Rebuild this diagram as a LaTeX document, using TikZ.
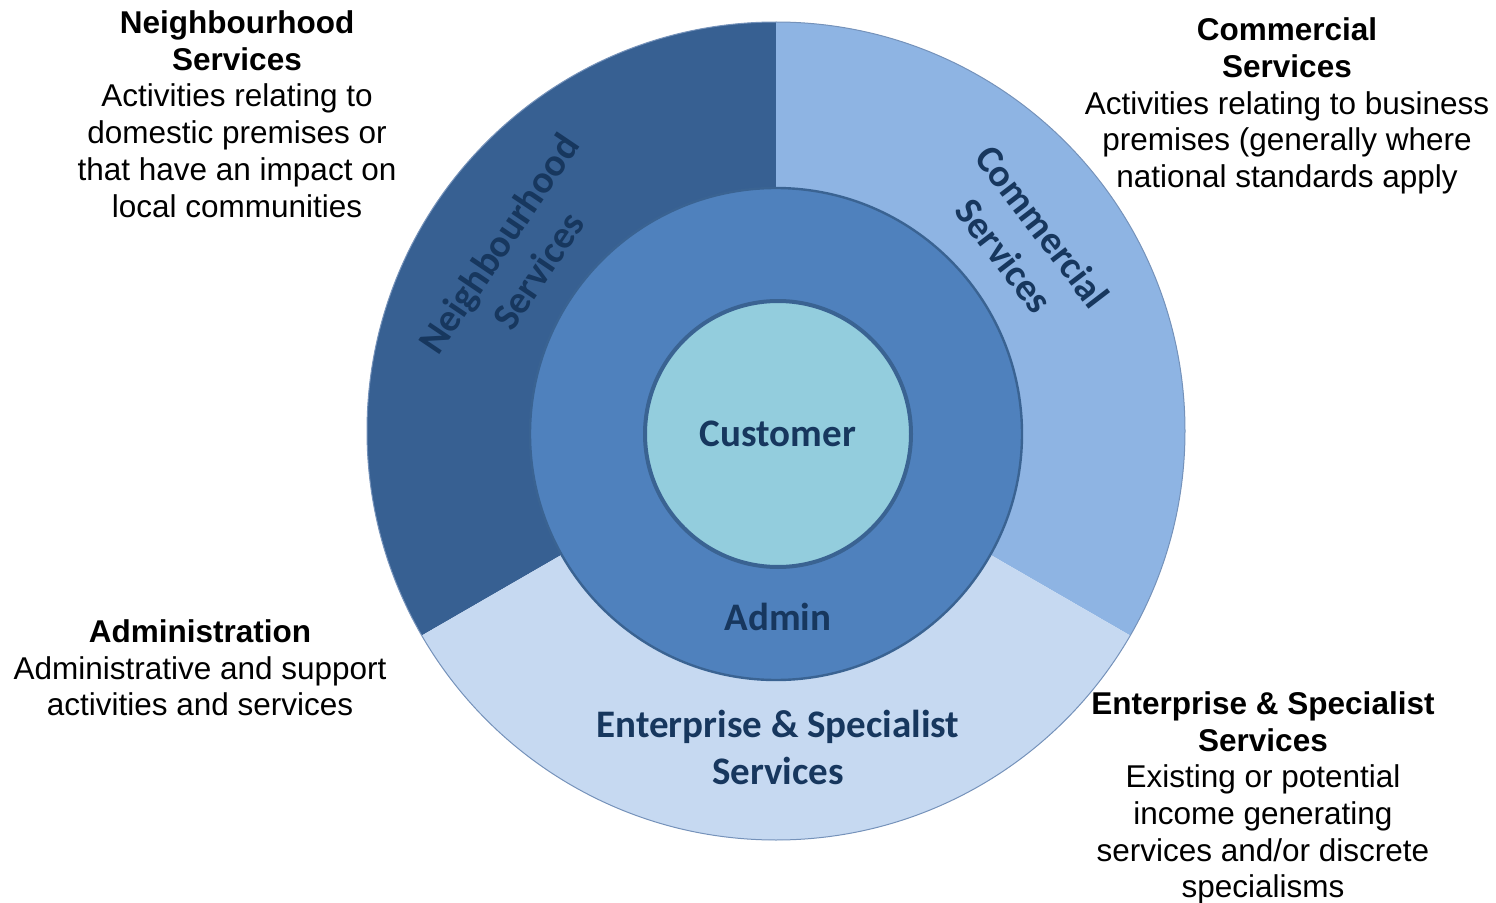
\documentclass[tikz,border=0pt]{standalone}
\usepackage{fontspec}
\setmainfont{Liberation Sans}
\newfontfamily\calibri{Carlito}
\definecolor{nbhd}{HTML}{376092}
\definecolor{comm}{HTML}{8EB4E3}
\definecolor{entr}{HTML}{C6D9F1}
\definecolor{admin}{HTML}{4F81BD}
\definecolor{cust}{HTML}{93CDDD}
\definecolor{rimline}{HTML}{7592BA}
\definecolor{border}{HTML}{3A6392}
\definecolor{navy}{HTML}{17375E}
\begin{document}
\begin{tikzpicture}[x=.5pt, y=.5pt,
    ringlabel/.style={text=navy, align=center, font=\calibri\bfseries\fontsize{19.5}{24}\selectfont},
    blurb/.style={align=center, font=\fontsize{15.75}{18.35}\selectfont}]
\useasboundingbox (0,0) rectangle (1496,902);
\coordinate (ctr) at (776,471);
% outer ring, three sectors
\fill[nbhd](ctr)--++(90:409)arc[start angle=90, end angle=210, radius=409]--cycle;
\fill[comm](ctr)--++(90:409)arc[start angle=90, end angle=-30, radius=409]--cycle;
\fill[entr](ctr)--++(-30:409)arc[start angle=-30, end angle=-150, radius=409]--cycle;
\draw[rimline, line width=.5pt](ctr) circle[radius=409];
% admin ring and customer core
\draw[fill=admin, draw=border, line width=1.2pt](776,468) circle[radius=246];
\node[circle, minimum size=133pt, inner sep=0pt, fill=cust, draw=border, line width=2pt, ringlabel] (customer) at (778,468) {Customer};
\node[ringlabel] (adminlbl) at (778,285) {Admin};
\node[ringlabel, font=\calibri\bfseries\fontsize{19.5}{23.5}\selectfont] (entrlbl) at (778,154.5) {Enterprise \& Specialist\\Services};
\path(ctr)++(146:311)node[ringlabel, rotate=56] (nbhdlbl) {Neighbourhood\\Services};
\path(ctr)++(37.5:312)node[ringlabel, rotate=-52.5] (commlbl) {Commercial\\Services};
% notes round the wheel
\node[blurb] (nbhdnote) at (237,788) {\textbf{Neighbourhood}\\\textbf{Services}\\Activities relating to\\domestic premises or\\that have an impact on\\local communities};
\node[blurb] (commnote) at (1287,796) {\textbf{Commercial}\\\textbf{Services}\\Activities relating to business\\premises (generally where\\national standards apply};
\node[blurb] (adminnote) at (200,234) {\textbf{Administration}\\Administrative and support\\activities and services};
\node[blurb] (entrnote) at (1263,104) {\textbf{Enterprise \& Specialist}\\\textbf{Services}\\Existing or potential\\income generating\\services and/or discrete\\specialisms};
\end{tikzpicture}
\end{document}
